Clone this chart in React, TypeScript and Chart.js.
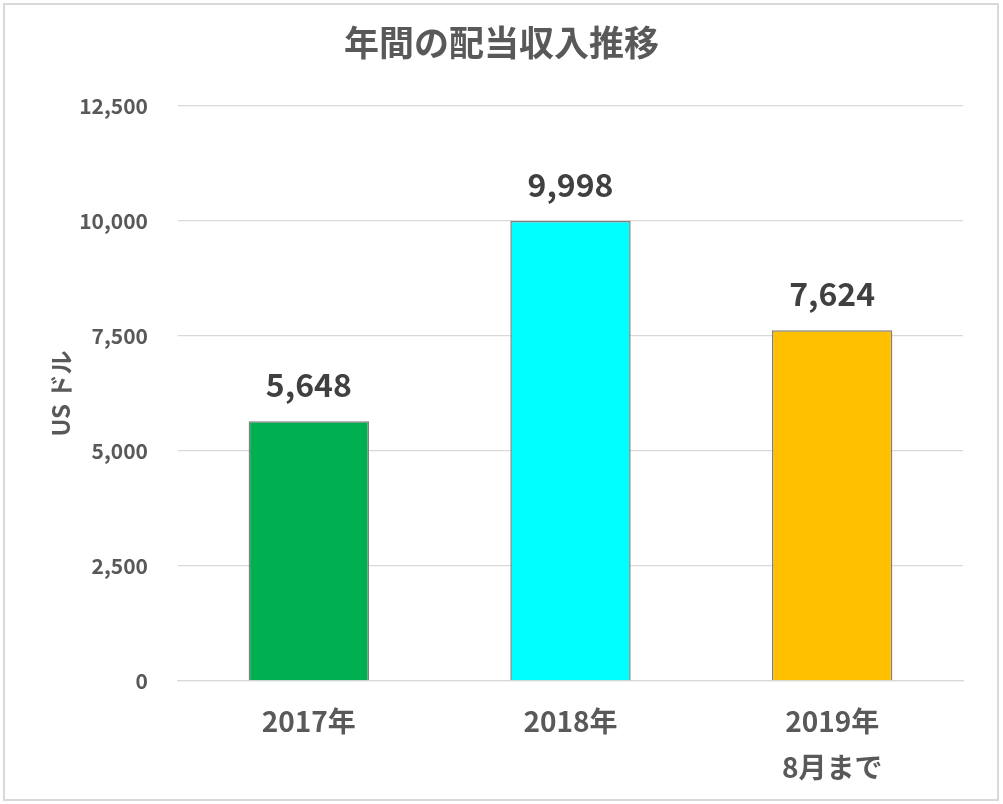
import { useEffect, useRef } from 'react';
import { Chart, registerables } from 'chart.js';

Chart.register(...registerables);

// Chart data
const categories: (string | string[])[] = ['2017年', '2018年', ['2019年', '8月まで']];
const dividends = [5648, 9998, 7624];
const barColors = ['#00B050', '#00FFFF', '#FFC000'];
const yTicks = [0, 2500, 5000, 7500, 10000, 12500];

const FONT = "'Noto Sans CJK JP', 'Noto Sans', sans-serif";
const TEXT = '#595959';
const GRID = '#d9d9d9';

// draws the value above each bar
const valueLabels = {
  id: 'valueLabels',
  afterDatasetsDraw(chart: Chart) {
    const ctx = chart.ctx;
    const meta = chart.getDatasetMeta(0);
    ctx.save();
    ctx.font = `bold 32px ${FONT}`;
    ctx.fillStyle = '#404040';
    ctx.textAlign = 'center';
    ctx.textBaseline = 'alphabetic';
    meta.data.forEach((bar: any, i: number) => {
      ctx.fillText(dividends[i].toLocaleString('en-US'), bar.x, bar.y - 24);
    });
    ctx.restore();
  },
};

const DividendChart = () => {
  const canvasRef = useRef<HTMLCanvasElement>(null);
  const chartRef = useRef<Chart | null>(null);

  useEffect(() => {
    if (!canvasRef.current) return;
    if (chartRef.current) chartRef.current.destroy();

    chartRef.current = new Chart(canvasRef.current, {
      type: 'bar',
      data: {
        labels: categories,
        datasets: [{
          label: '配当収入',
          data: dividends,
          backgroundColor: barColors,
          borderColor: '#7f7f7f',
          borderWidth: 1.5,
          barPercentage: 0.46,
          categoryPercentage: 1,
        }],
      },
      options: {
        responsive: false,
        animation: false,
        devicePixelRatio: 1,
        layout: { padding: { left: 40, right: 40, top: 0, bottom: 0 } },
        plugins: {
          legend: { display: false },
          tooltip: { enabled: false },
          title: {
            display: true,
            text: '年間の配当収入推移',
            color: TEXT,
            font: { family: FONT, size: 35, weight: 'bold', lineHeight: 1.2 },
            padding: { top: 22, bottom: 42 },
          },
        },
        scales: {
          x: {
            grid: { display: false, drawTicks: false },
            border: { display: true, color: GRID, width: 1.3 },
            ticks: {
              color: TEXT,
              padding: 18,
              maxRotation: 0,
              font: { family: FONT, size: 28, weight: 'bold', lineHeight: 1.63 },
            },
            afterFit: (scale: any) => { scale.height = 123; },
          },
          y: {
            min: 0,
            max: 12500,
            afterBuildTicks: (scale: any) => {
              scale.ticks = yTicks.map(v => ({ value: v }));
            },
            grid: { color: GRID, lineWidth: 1.3, drawTicks: false },
            border: { display: false },
            ticks: {
              color: TEXT,
              padding: 30,
              font: { family: FONT, size: 21, weight: 'bold' },
              callback: (v: any) => Number(v).toLocaleString('en-US'),
            },
            title: {
              display: true,
              text: 'US ドル',
              color: TEXT,
              font: { family: FONT, size: 24, weight: 'bold', lineHeight: 1.2 },
              padding: { top: 6, bottom: 0 },
            },
            afterFit: (scale: any) => { scale.width = 138; },
          },
        },
      },
      plugins: [valueLabels],
    });

    return () => {
      if (chartRef.current) {
        chartRef.current.destroy();
        chartRef.current = null;
      }
    };
  }, []);

  return (
    <div style={{ position: 'fixed', left: 0, top: 0, width: 1003, height: 804, background: '#fff' }}>
      <canvas ref={canvasRef} width={1003} height={804} style={{ position: 'absolute', left: 0, top: 0 }} />
      <div
        style={{
          position: 'absolute',
          left: 3,
          top: 3,
          width: 996,
          height: 798,
          border: `2px solid ${GRID}`,
          boxSizing: 'border-box',
          pointerEvents: 'none',
        }}
      />
    </div>
  );
};

export default function App() {
  return <DividendChart />;
}
